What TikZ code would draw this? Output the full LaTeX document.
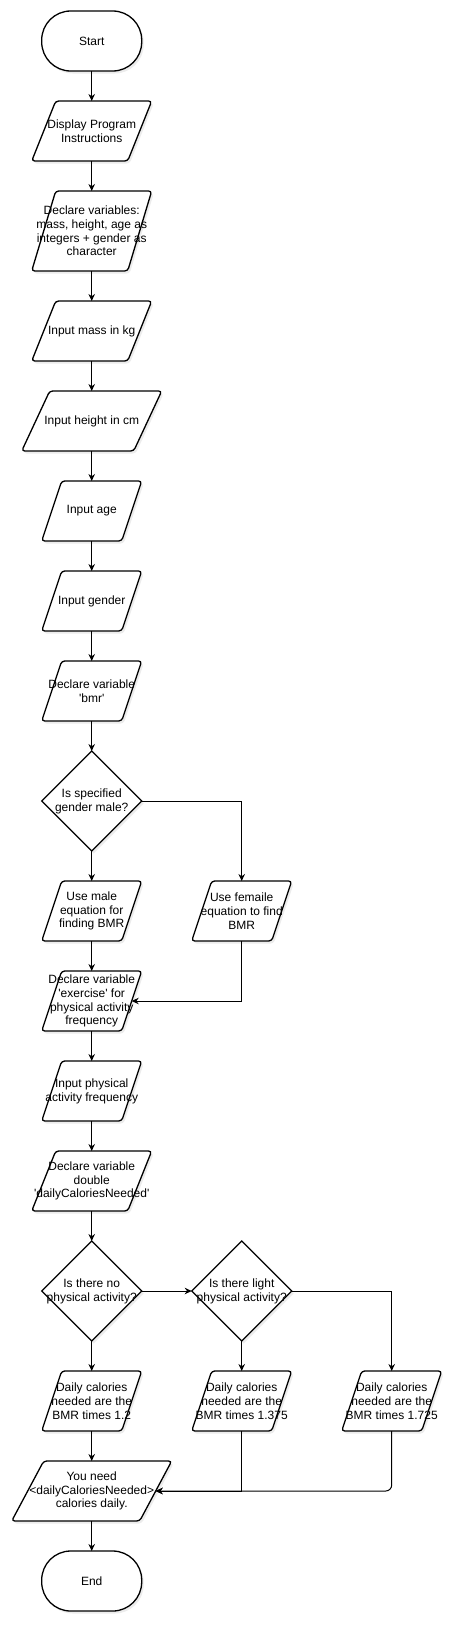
\documentclass[tikz,border=0pt]{standalone}
\usepackage{fontspec}
\setmainfont{Liberation Sans}
\usetikzlibrary{arrows.meta,shadows}
\tikzset{
  txt/.style={font=\fontsize{12}{13.8}\selectfont,align=center,inner sep=0pt,outer sep=0pt},
  shp/.style={draw=black,fill=white,line width=1.3pt,drop shadow={shadow xshift=2pt,shadow yshift=-2.5pt,opacity=0.15,fill=gray}},
  term/.style={txt,shp,rounded corners=29pt,minimum width=100pt,minimum height=60pt},
  io/.style={txt,minimum width=#1,minimum height=60pt,
    append after command={\pgfextra{\draw[shp,rounded corners=3pt] ([xshift=0.2*#1]\tikzlastnode.north west)--(\tikzlastnode.north east)--([xshift=-0.2*#1]\tikzlastnode.south east)--(\tikzlastnode.south west)--cycle;}}},
  io/.default=100pt,
  dec/.style={txt,minimum width=100pt,minimum height=100pt,
    append after command={\pgfextra{\draw[shp] (\tikzlastnode.north)--(\tikzlastnode.east)--(\tikzlastnode.south)--(\tikzlastnode.west)--cycle;}}},
  arr/.style={-{Stealth[length=7pt,width=6.5pt]},line width=1pt}
}
\begin{document}
\begin{tikzpicture}[x=1pt,y=-1pt]
\path[use as bounding box,fill=white] (0,0) rectangle (463,1633);
\node[term] (start) at (91.7,41) {Start};
\node[io=120pt] (instr) at (91.7,131) {Display Program\\Instructions};
\node[io=120pt,minimum height=80pt] (vars) at (91.7,231) {Declare variables:\\mass, height, age as\\integers + gender as\\character};
\node[io=120pt] (mass) at (91.7,331) {Input mass in kg};
\node[io=140pt] (height) at (91.7,421) {Input height in cm};
\node[io] (age) at (91.7,511) {Input age};
\node[io] (gender) at (91.7,601) {Input gender};
\node[io] (bmr) at (91.7,691) {Declare variable\\\textquotesingle bmr\textquotesingle};
\draw[arr] (start)--(instr); \draw[arr] (instr)--(vars); \draw[arr] (vars)--(mass); \draw[arr] (mass)--(height);
\draw[arr] (height)--(age); \draw[arr] (age)--(gender); \draw[arr] (gender)--(bmr);

\node[dec] (ismale) at (91.7,801) {Is specified\\gender male?};
\node[io] (male) at (91.7,911) {Use male\\equation for\\finding BMR};
\node[io] (female) at (241.7,911) {Use femaile\\equation to find\\BMR};
\node[io] (exercise) at (91.7,1001) {Declare variable\\\textquotesingle exercise\textquotesingle{} for\\physical activity\\frequency};
\draw[arr] (bmr)--(ismale); \draw[arr] (ismale)--(male); \draw[arr] (ismale)-|(female);
\draw[arr] (male)--(exercise); \draw[arr] (female)|-([xshift=-10pt]exercise.east);

\node[io] (activity) at (91.7,1091) {Input physical\\activity frequency};
\node[io=120pt] (calories) at (91.7,1181) {Declare variable\\double\\\textquotesingle dailyCaloriesNeeded\textquotesingle};
\draw[arr] (exercise)--(activity); \draw[arr] (activity)--(calories);

\node[dec] (isnone) at (91.7,1291) {Is there no\\physical activity?};
\node[dec] (islight) at (241.7,1291) {Is there light\\physical activity?};
\node[io] (none) at (91.7,1401) {Daily calories\\needed are the\\BMR times 1.2};
\node[io] (light) at (241.7,1401) {Daily calories\\needed are the\\BMR times 1.375};
\node[io] (heavy) at (391.7,1401) {Daily calories\\needed are the\\BMR times 1.725};
\draw[arr] (calories)--(isnone); \draw[arr] (isnone)--(islight); \draw[arr] (isnone)--(none);
\draw[arr] (islight)--(light); \draw[arr] (islight)-|(heavy);

\node[io=160pt] (result) at (91.7,1491) {You need\\<dailyCaloriesNeeded>\\calories daily.};
\node[term] (end) at (91.7,1581) {End};
\draw[arr] (none)--(result); \draw[arr] (light)|-([xshift=-16pt]result.east);
\draw[arr,rounded corners=6pt] (heavy)|-([xshift=-16pt]result.east);
\draw[arr] (result)--(end);
\end{tikzpicture}
\end{document}
